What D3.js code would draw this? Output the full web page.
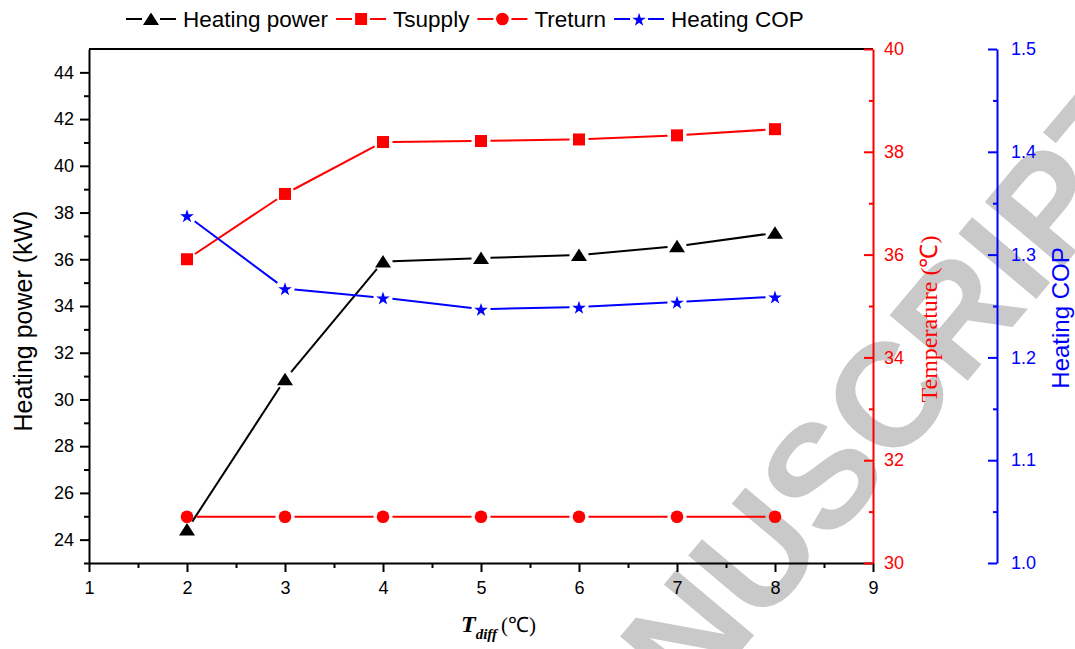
<!DOCTYPE html>
<html>
<head>
<meta charset="utf-8">
<script src="https://cdn.jsdelivr.net/npm/d3@7"></script>
<style>
  body { margin: 0; background: #fff; }
  svg { display: block; }
</style>
</head>
<body>
<svg id="chart" width="1075" height="649"></svg>
<script>
// ---- data ----
const tDiff        = [2, 3, 4, 5, 6, 7, 8];
const heatingPower = [24.43, 30.86, 35.9, 36.05, 36.18, 36.56, 37.13];   // kW
const tSupply      = [35.91, 37.18, 38.19, 38.21, 38.24, 38.32, 38.44];  // °C
const tReturn      = [30.9, 30.9, 30.9, 30.9, 30.9, 30.9, 30.9];         // °C
const heatingCOP   = [1.338, 1.267, 1.258, 1.247, 1.249, 1.254, 1.259];

const xTicks     = [1, 2, 3, 4, 5, 6, 7, 8, 9];
const powerTicks = [24, 26, 28, 30, 32, 34, 36, 38, 40, 42, 44];
const tempTicks  = [30, 32, 34, 36, 38, 40];
const copTicks   = [1.0, 1.1, 1.2, 1.3, 1.4, 1.5];

const SANS  = "'Liberation Sans', Arial, sans-serif";
const SERIF = "'Liberation Serif', 'Times New Roman', serif";

// ---- layout ----
const plot = { left: 89, right: 873, top: 49, bottom: 563 };
const copAxisX = 997;

const svg = d3.select("#chart");

const x  = d3.scaleLinear().domain([1, 9]).range([plot.left, plot.right]);
const yP = d3.scaleLinear().domain([23, 45]).range([plot.bottom, plot.top]);
const yT = d3.scaleLinear().domain([30, 40]).range([plot.bottom, plot.top]);
const yC = d3.scaleLinear().domain([1.0, 1.5]).range([plot.bottom, plot.top]);

// ---- watermark (behind everything) ----
svg.append("text")
  .attr("transform", "translate(1178,130) rotate(-50)")
  .attr("text-anchor", "end")
  .attr("font-family", SANS)
  .attr("font-weight", "bold")
  .attr("font-size", 148)
  .attr("fill", "#c9c9c9")
  .text("ACCEPTED MANUSCRIPT");

// ---- axes ----
function styleAxis(g, color, fontSize) {
  g.select(".domain").attr("stroke", color).attr("stroke-width", 2);
  g.selectAll(".tick line").attr("stroke", color).attr("stroke-width", 2);
  g.selectAll(".tick text")
    .attr("fill", color)
    .attr("font-family", SANS)
    .attr("font-size", fontSize);
}
function minorAxis(axisFn, scale, values, size, transform, color) {
  const g = svg.append("g").attr("transform", transform);
  g.call(axisFn(scale).tickValues(values).tickSize(size).tickFormat(""));
  g.select(".domain").remove();
  g.selectAll(".tick line").attr("stroke", color).attr("stroke-width", 2);
  return g;
}

// top frame line
svg.append("line")
  .attr("x1", plot.left).attr("x2", plot.right)
  .attr("y1", plot.top).attr("y2", plot.top)
  .attr("stroke", "#000").attr("stroke-width", 2);

// left: heating power
minorAxis(d3.axisLeft, yP, d3.range(23, 45, 2), 5, `translate(${plot.left},0)`, "#000");
const gP = svg.append("g").attr("transform", `translate(${plot.left},0)`)
  .call(d3.axisLeft(yP).tickValues(powerTicks).tickSize(9).tickSizeOuter(0).tickPadding(6));
styleAxis(gP, "#000", 18);

// bottom: T_diff
minorAxis(d3.axisBottom, x, d3.range(1.5, 9, 1), 5, `translate(0,${plot.bottom})`, "#000");
const gX = svg.append("g").attr("transform", `translate(0,${plot.bottom})`)
  .call(d3.axisBottom(x).tickValues(xTicks).tickSize(9).tickSizeOuter(0).tickPadding(9));
styleAxis(gX, "#000", 18);

// right: temperature (ticks point inward)
minorAxis(d3.axisRight, yT, d3.range(31, 40, 2), -4, `translate(${plot.right},0)`, "#ff0000");
const gT = svg.append("g").attr("transform", `translate(${plot.right},0)`)
  .call(d3.axisRight(yT).tickValues(tempTicks).tickSizeInner(-9).tickSizeOuter(0).tickPadding(11));
styleAxis(gT, "#ff0000", 18);

// far right: heating COP
minorAxis(d3.axisRight, yC, d3.range(1.05, 1.5, 0.1), -4, `translate(${copAxisX},0)`, "#0000ff");
const gC = svg.append("g").attr("transform", `translate(${copAxisX},0)`)
  .call(d3.axisRight(yC).tickValues(copTicks).tickSizeInner(-9).tickSizeOuter(0)
        .tickPadding(14).tickFormat(d3.format(".1f")));
styleAxis(gC, "#0000ff", 18);

// ---- axis titles ----
svg.append("text")
  .attr("transform", "translate(32,321) rotate(-90)")
  .attr("text-anchor", "middle")
  .attr("font-family", SANS).attr("font-size", 25)
  .attr("fill", "#000")
  .text("Heating power (kW)");

svg.append("text")
  .attr("transform", "translate(937,319) rotate(-90)")
  .attr("text-anchor", "middle")
  .attr("font-family", SERIF).attr("font-size", 24)
  .attr("fill", "#ff0000")
  .text("Temperature (℃)");

svg.append("text")
  .attr("transform", "translate(1069,318) rotate(-90)")
  .attr("text-anchor", "middle")
  .attr("font-family", SANS).attr("font-size", 24)
  .attr("fill", "#0000ff")
  .text("Heating COP");

const xt = svg.append("text")
  .attr("x", 461).attr("y", 632)
  .attr("font-family", SERIF).attr("fill", "#000");
xt.append("tspan").attr("font-size", 24).attr("font-weight", "bold").attr("font-style", "italic").text("T");
xt.append("tspan").attr("font-size", 15).attr("font-weight", "bold").attr("font-style", "italic")
  .attr("dy", 7).text("diff");
xt.append("tspan").attr("font-size", 21).attr("dy", -7).attr("dx", 4).text("(℃)");

// ---- markers ----
function marker(g, type, color) {
  if (type === "triangle") {
    g.append("path").attr("d", "M0,-6.5L8,6L-8,6Z").attr("fill", color);
  } else if (type === "square") {
    g.append("rect").attr("x", -6).attr("y", -6).attr("width", 12).attr("height", 12).attr("fill", color);
  } else if (type === "circle") {
    g.append("circle").attr("r", 6.3).attr("fill", color);
  } else if (type === "star") {
    g.append("path").attr("d", d3.symbol(d3.symbolStar, 58)()).attr("fill", color)
      .attr("transform", "translate(0,1)");
  }
}

const series = [
  { name: "Heating power", values: heatingPower, y: yP, color: "#000000", type: "triangle" },
  { name: "Tsupply",       values: tSupply,      y: yT, color: "#ff0000", type: "square" },
  { name: "Treturn",       values: tReturn,      y: yT, color: "#ff0000", type: "circle" },
  { name: "Heating COP",   values: heatingCOP,   y: yC, color: "#0000ff", type: "star" }
];

const GAP = 9.5; // line segments stop short of each marker
series.forEach(s => {
  const pts = tDiff.map((t, i) => [x(t), s.y(s.values[i])]);
  const g = svg.append("g");
  for (let i = 0; i < pts.length - 1; i++) {
    const [x0, y0] = pts[i], [x1, y1] = pts[i + 1];
    const d = Math.hypot(x1 - x0, y1 - y0);
    if (d <= 2 * GAP) continue;
    const ux = (x1 - x0) / d, uy = (y1 - y0) / d;
    g.append("line")
      .attr("x1", x0 + ux * GAP).attr("y1", y0 + uy * GAP)
      .attr("x2", x1 - ux * GAP).attr("y2", y1 - uy * GAP)
      .attr("stroke", s.color).attr("stroke-width", 2);
  }
  pts.forEach(p => {
    const m = g.append("g").attr("transform", `translate(${p[0]},${p[1]})`);
    marker(m, s.type, s.color);
  });
});

// ---- legend ----
const legend = svg.append("g").attr("transform", "translate(126,19)");
let lx = 0;
series.forEach(s => {
  const item = legend.append("g").attr("transform", `translate(${lx},0)`);
  item.append("line").attr("x1", 0).attr("x2", 16).attr("stroke", s.color).attr("stroke-width", 2);
  item.append("line").attr("x1", 34).attr("x2", 50).attr("stroke", s.color).attr("stroke-width", 2);
  marker(item.append("g").attr("transform", "translate(25,0)"), s.type, s.color);
  const t = item.append("text")
    .attr("x", 57).attr("y", 8)
    .attr("font-family", SANS).attr("font-size", 22.5)
    .attr("fill", "#000")
    .text(s.name);
  lx += 57 + t.node().getComputedTextLength() + 8;
});
</script>
</body>
</html>
